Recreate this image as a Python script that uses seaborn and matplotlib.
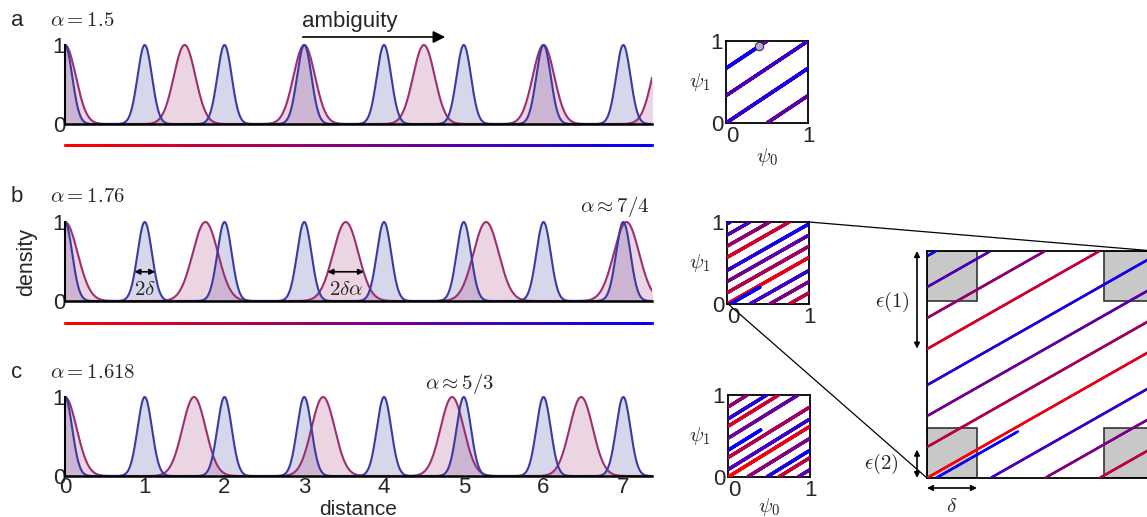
import numpy as np
import matplotlib
matplotlib.use("Agg")
import matplotlib.pyplot as plt
import seaborn as sns
from matplotlib.collections import LineCollection
from matplotlib.colors import LinearSegmentedColormap
from matplotlib.patches import Rectangle, FancyArrowPatch
from matplotlib.lines import Line2D

# ---------------- data ----------------
panel_letters = ["a", "b", "c"]
alphas = [1.5, 1.76, 1.618]
alpha_labels = [r"$\alpha = 1.5$", r"$\alpha = 1.76$", r"$\alpha = 1.618$"]
blue_peaks = [0, 1, 2, 3, 4, 5, 6, 7, 8]
purple_peaks_a = [0, 1.5, 3.0, 4.5, 6.0, 7.5]
purple_peaks_b = [0, 1.76, 3.52, 5.28, 7.04]
purple_peaks_c = [0, 1.618, 3.236, 4.854, 6.472]
purple_peaks = [purple_peaks_a, purple_peaks_b, purple_peaks_c]
peak_width = 0.09          # sigma of the period-1 module (scaled by alpha for the other)
distance_max = 7.4
x_ticks = [0, 1, 2, 3, 4, 5, 6, 7]
delta_box = 0.22
eps_box = 0.22

# ---------------- style ----------------
sns.set_style("white")
plt.rcParams["font.family"] = ["Liberation Sans", "DejaVu Sans"]
plt.rcParams["mathtext.fontset"] = "cm"

W, H = 1147, 517
fig = plt.figure(figsize=(W / 100, H / 100), dpi=100)

def fx(px):
    return px / W

def fy(py):
    return 1 - py / H

BLUE = (0.23, 0.23, 0.63)
PURP = (0.61, 0.19, 0.44)
cmap = LinearSegmentedColormap.from_list("rb", [(1, 0, 0), (0.5, 0, 0.5), (0, 0, 1)])

xs = np.linspace(0, distance_max, 3000)

def bumps(x, peaks, s):
    y = np.zeros_like(x)
    for p in peaks:
        y = y + np.exp(-(x - p) ** 2 / (2 * s ** 2))
    return y

zero_px = [124, 301, 476]
xlim_max = 7.36
unit = 79.0
left_px, right_px = 65, 652
TICK_FS = 16
MATH_FS = 15

main_axes = []
for i in range(3):
    ytop = 1.03
    ax = fig.add_axes([fx(left_px), fy(zero_px[i]), fx(right_px - left_px), unit * ytop / H])
    main_axes.append(ax)
    a = alphas[i]
    yb = bumps(xs, blue_peaks, peak_width)
    yp = bumps(xs, purple_peaks[i], peak_width * a)
    ax.fill_between(xs, 0, yb, color=BLUE, alpha=0.2, lw=0)
    ax.fill_between(xs, 0, yp, color=PURP, alpha=0.2, lw=0)
    sns.lineplot(x=xs, y=yp, ax=ax, color=PURP, lw=1.5)
    sns.lineplot(x=xs, y=yb, ax=ax, color=BLUE, lw=1.5)
    ax.set_xlim(0, xlim_max)
    ax.set_ylim(0, ytop)
    for s in ["top", "right"]:
        ax.spines[s].set_visible(False)
    ax.spines["left"].set_bounds(0, 1)
    ax.spines["left"].set_linewidth(1.5)
    ax.spines["bottom"].set_linewidth(1.8)
    ax.spines["left"].set_color("black")
    ax.spines["bottom"].set_color("black")
    ax.set_yticks([0, 0.5, 1])
    ax.set_yticklabels(["0", "", "1"], fontsize=TICK_FS)
    ax.tick_params(axis="y", direction="in", length=3, pad=0, width=1)
    if i == 2:
        ax.set_xticks(x_ticks)
        ax.set_xticklabels([str(t) for t in x_ticks], fontsize=TICK_FS)
        ax.tick_params(axis="x", length=0, pad=1)
        ax.set_xlabel("distance", fontsize=15, labelpad=1)
    else:
        ax.set_xticks([])
    ax.set_ylabel("")
    fig.text(fx(17), fy([20, 197, 372][i]), panel_letters[i], fontsize=16, ha="center", va="center")
    fig.text(fx(50), fy([20, 197, 372][i]), alpha_labels[i], fontsize=MATH_FS, ha="left", va="center")
    # gradient colour bars under a and b
    if i < 2:
        xb = np.linspace(0, xlim_max, 300)
        yline = -[21, 22][i] / unit
        pts = np.column_stack([xb, np.full_like(xb, yline)])
        segs = np.stack([pts[:-1], pts[1:]], axis=1)
        lc = LineCollection(segs, colors=cmap(xb[:-1] / xlim_max), lw=2.0, clip_on=False,
                            capstyle="projecting")
        ax.add_collection(lc)

fig.text(fx(27), fy(262), "density", fontsize=15.5, rotation=90, ha="center", va="center")

# ambiguity arrow
fig.text(fx(350), fy(21), "ambiguity", fontsize=16, ha="center", va="center")
fig.add_artist(FancyArrowPatch((fx(300), fy(37)), (fx(448), fy(37)),
                               transform=fig.transFigure, arrowstyle="-|>",
                               mutation_scale=18, lw=1.2, color="black"))
fig.text(fx(650), fy(207), r"$\alpha \approx 7/4$", fontsize=MATH_FS, ha="right", va="center")
fig.text(fx(460), fy(383), r"$\alpha \approx 5/3$", fontsize=MATH_FS, ha="center", va="center")

# 2 delta annotations in b
axb = main_axes[1]
d = 0.13
ap_small = dict(arrowstyle="<|-|>", color="black", lw=1.2, mutation_scale=8, shrinkA=0, shrinkB=0)
axb.annotate("", xy=(1 - d, 0.37), xytext=(1 + d, 0.37), arrowprops=ap_small)
axb.text(1.0, 0.14, r"$2\delta$", fontsize=MATH_FS, ha="center", va="center")
c2 = 2 * alphas[1]
axb.annotate("", xy=(c2 - d * alphas[1], 0.37), xytext=(c2 + d * alphas[1], 0.37), arrowprops=ap_small)
axb.text(c2, 0.14, r"$2\delta\alpha$", fontsize=MATH_FS, ha="center", va="center")

# ---------------- torus trajectories ----------------
def traj_collection(a, lw):
    t = np.linspace(0, distance_max, 1500)
    p0 = np.mod(t, 1.0)
    p1 = np.mod(t / a, 1.0)
    pts = np.column_stack([p0, p1])
    segs = np.stack([pts[:-1], pts[1:]], axis=1)
    ok = (np.abs(np.diff(p0)) < 0.5) & (np.abs(np.diff(p1)) < 0.5)
    cols = cmap(t[:-1] / distance_max)
    return LineCollection(segs[ok], colors=cols[ok], lw=lw, capstyle="projecting",
                          joinstyle="round", zorder=3), pts[-1]

inset_boxes = [(726, 41, 82), (727, 222, 82), (728, 395, 82)]
psi0_offsets = [34, None, 30]
inset_axes = []
for i in range(3):
    x0, y0, s = inset_boxes[i]
    ax = fig.add_axes([fx(x0), fy(y0 + s), s / W, s / H])
    inset_axes.append(ax)
    lc, endp = traj_collection(alphas[i], 2.2)
    ax.add_collection(lc)
    ax.set_xlim(0, 1)
    ax.set_ylim(0, 1)
    for sp in ax.spines.values():
        sp.set_visible(True)
        sp.set_color("black")
        sp.set_linewidth(1.3)
    ax.set_xticks([0, 1])
    ax.set_yticks([0, 1])
    ax.set_xticklabels(["0", "1"], fontsize=TICK_FS)
    ax.set_yticklabels(["0", "1"], fontsize=TICK_FS)
    ax.tick_params(axis="y", length=0, pad=2)
    ax.tick_params(axis="x", length=0, pad=2)
    labs = ax.get_xticklabels()
    labs[0].set_horizontalalignment("left")
    fig.text(fx(700), fy(y0 + s / 2), r"$\psi_1$", fontsize=MATH_FS, ha="center", va="center")
    if psi0_offsets[i] is not None:
        fig.text(fx(x0 + s / 2), fy(y0 + s + psi0_offsets[i]), r"$\psi_0$", fontsize=MATH_FS,
                 ha="center", va="center")
    if i == 0:
        ax.plot([endp[0]], [endp[1]], "o", ms=6, mfc=(0.72, 0.65, 0.85), mec="#333333",
                mew=0.8, zorder=5, clip_on=False)

# big zoom of panel b torus
bl, bb, bs = 927, 478, 227
axz = fig.add_axes([fx(bl), fy(bb), bs / W, bs / H])
axz.set_xlim(0, 1)
axz.set_ylim(0, 1)
for (rx, ry) in [(0, 0), (0, 1 - eps_box), (1 - delta_box, 0), (1 - delta_box, 1 - eps_box)]:
    axz.add_patch(Rectangle((rx, ry), delta_box, eps_box, facecolor="#c8c8c8",
                            edgecolor="#333333", lw=1.2, zorder=2))
lcz, _ = traj_collection(alphas[1], 1.7)
axz.add_collection(lcz)
for sp in axz.spines.values():
    sp.set_visible(True)
    sp.set_color("black")
    sp.set_linewidth(1.3)
axz.set_xticks([])
axz.set_yticks([])

ap = dict(arrowstyle="<|-|>", color="black", lw=1.2, mutation_scale=8, shrinkA=0, shrinkB=0)
axz.annotate("", xy=(-0.044, 1.0), xytext=(-0.044, 0.57), xycoords="axes fraction",
             textcoords="axes fraction", arrowprops=ap, annotation_clip=False)
axz.text(-0.15, 0.775, r"$\epsilon(1)$", fontsize=MATH_FS, ha="center", va="center", transform=axz.transAxes)
axz.annotate("", xy=(-0.044, 0.0), xytext=(-0.044, 0.125), xycoords="axes fraction",
             textcoords="axes fraction", arrowprops=ap, annotation_clip=False)
axz.text(-0.2, 0.06, r"$\epsilon(2)$", fontsize=MATH_FS, ha="center", va="center", transform=axz.transAxes)
axz.annotate("", xy=(0.0, -0.044), xytext=(delta_box, -0.044), xycoords="axes fraction",
             textcoords="axes fraction", arrowprops=ap, annotation_clip=False)
axz.text(delta_box / 2, -0.125, r"$\delta$", fontsize=MATH_FS, ha="center", va="center", transform=axz.transAxes)

# connecting lines
fig.add_artist(Line2D([fx(809), fx(bl + bs)], [fy(222), fy(bb - bs)], transform=fig.transFigure,
                      color="black", lw=0.9))
fig.add_artist(Line2D([fx(727), fx(bl)], [fy(303), fy(bb)], transform=fig.transFigure,
                      color="black", lw=0.9))

fig.savefig("out.png", dpi=100)
